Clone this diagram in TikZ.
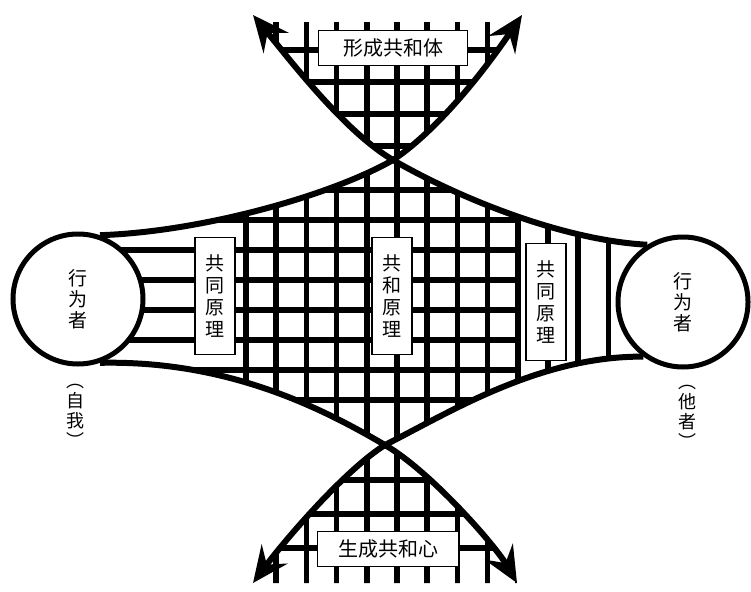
\documentclass[tikz,border=0pt]{standalone}
\usepackage{fontspec}
\newfontfamily\cjk{Noto Sans CJK SC}
\usetikzlibrary{arrows.meta,backgrounds}

\begin{document}
\begin{tikzpicture}[x=1pt, y=-1pt,
  actor/.style={circle, draw, fill=white, line width=5pt, minimum size=130pt, align=center, font=\cjk\fontsize{19}{21}\selectfont},
  principle/.style={rectangle, draw, fill=white, line width=1.6pt, minimum width=40pt, minimum height=117pt, inner sep=0pt, align=center, font=\cjk\fontsize{19}{22}\selectfont},
  banner/.style={rectangle, draw, fill=white, line width=1.6pt, minimum height=35pt, inner sep=0pt, font=\cjk\fontsize{20}{22}\selectfont},
  side/.style={align=center, font=\cjk\fontsize{18}{20}\selectfont},
  mesh/.style={line width=5.5pt},
  arrow/.style={-{Stealth[length=36pt, width=32pt, inset=13pt]}, line width=6pt},
]
  \useasboundingbox (0,0) rectangle (751,591);
  \node[actor] (ego) at (78,299) {行\\为\\者};
  \node[actor] (alter) at (683,302) {行\\为\\者};
  \node[principle] (lcommon) at (215,296) {共\\同\\原\\理};
  \node[principle] (republic) at (392,296) {共\\和\\原\\理};
  \node[principle] (rcommon) at (546,302) {共\\同\\原\\理};
  \node[banner, minimum width=149pt] (form) at (393,48) {形成共和体};
  \node[banner, minimum width=141pt] (birth) at (388,549) {生成共和心};
  \node[side] (self) at (75,416) {︵\\自\\我\\︶};
  \node[side] (other) at (687,417) {︵\\他\\者\\︶};
  \coordinate (xtop) at (393,160);
  \coordinate (xbot) at (385,445);
  \coordinate (tl) at (253,15);
  \coordinate (tr) at (522,15);
  \coordinate (bl) at (253,583);
  \coordinate (br) at (517,583);

  \begin{scope}[on background layer]
    % lattice between the strands
    \begin{scope}
      \clip (ego.71) .. controls (200,232) and (330,196) .. (xtop)
            .. controls (455,196) and (560,240) .. (alter.122) -- (alter.center) -- (alter.-126)
            .. controls (540,356) and (450,412) .. (xbot)
            .. controls (325,410) and (230,360) .. (ego.-71) -- (ego.center) -- cycle
            (xtop) .. controls (445,125) and (495,55) .. (tr) -- (tl)
            .. controls (290,60) and (345,132) .. (xtop)
            (xbot) .. controls (430,471) and (495,545) .. (br) -- (bl)
            .. controls (285,540) and (345,470) .. (xbot);
      \foreach \k in {0,...,12}
        \draw[mesh] ({246+30.2*\k},22) -- ({246+30.2*\k},584);
      \foreach \y in {190,220,...,400}
        \draw[mesh] (60,\y) -- (518,\y);
      \foreach \y in {50,82,114,146,480,514,548}
        \draw[mesh] (230,\y) -- (550,\y);
    \end{scope}
    \draw[arrow] (ego.71) .. controls (200,232) and (330,196) .. (xtop) .. controls (445,125) and (495,55) .. (tr);
    \draw[arrow] (alter.122) .. controls (560,240) and (455,196) .. (xtop) .. controls (345,132) and (290,60) .. (tl);
    \draw[arrow] (ego.-71) .. controls (230,360) and (325,410) .. (xbot) .. controls (430,471) and (495,545) .. (br);
    \draw[arrow] (alter.-126) .. controls (540,356) and (450,412) .. (xbot) .. controls (345,470) and (285,540) .. (bl);
  \end{scope}
\end{tikzpicture}
\end{document}
